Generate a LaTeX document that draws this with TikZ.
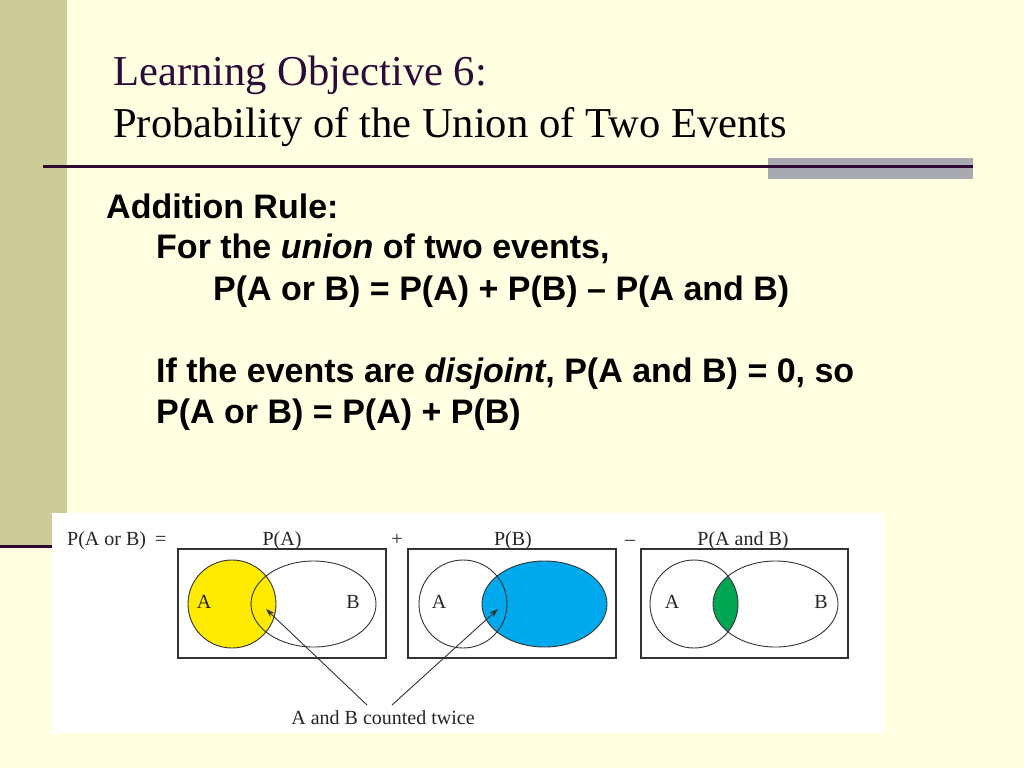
\documentclass[tikz,border=0pt]{standalone}
\usepackage{fontspec}
\setmainfont{Liberation Serif}
\newfontfamily\bodyfont{Liberation Sans}
\usetikzlibrary{arrows.meta}
\definecolor{bg}{HTML}{FFFFE1}
\definecolor{strip}{HTML}{CCCC99}
\definecolor{rulec}{HTML}{2E0A32}
\definecolor{greybar}{HTML}{A9A9B1}
\definecolor{titlec}{HTML}{2E0A3A}
\definecolor{vyellow}{HTML}{FFEA00}
\definecolor{vblue}{HTML}{00A9EC}
\definecolor{vgreen}{HTML}{00A651}
\definecolor{vline}{HTML}{333333}
\tikzset{
  titletext/.style={anchor=base west, inner sep=0pt, font=\fontsize{42.6}{50}\selectfont},
  bodytext/.style={anchor=base west, inner sep=0pt, font=\bodyfont\bfseries\fontsize{34}{40}\selectfont},
  figtext/.style={anchor=base, inner sep=0pt, font=\fontsize{20}{24}\selectfont, text=black!85},
  venntext/.style={anchor=center, inner sep=0pt, font=\fontsize{20}{24}\selectfont, text=black!85},
  vennbox/.style={draw=vline, line width=1.3pt},
  venncurve/.style={draw=vline, line width=0.9pt},
  pointer/.style={draw=vline, line width=0.9pt, -{Stealth[length=9pt,width=6pt]}}
}
\begin{document}
\begin{tikzpicture}[x=1pt,y=-1pt]
\useasboundingbox (0,0) rectangle (1024,768);
% background
\fill[bg] (0,0) rectangle (1024,768);
\fill[strip] (0,0) rectangle (67,545);
\draw[rulec, line width=3pt] (0,546) -- (60,546);
% title
\node[titletext, text=titlec] (t1) at (113,85) {Learning Objective 6:};
\node[titletext, text=black] (t2) at (113,137) {Probability of the Union of Two Events};
% rule and grey bar
\fill[greybar] (768,158) rectangle (973,179);
\draw[rulec, line width=2.2pt] (43,166.5) -- (973,166.5);
% body text
\node[bodytext] (l1) at (106,218) {Addition Rule:};
\node[bodytext] (l2) at (156,258) {For the \textit{union} of two events,};
\node[bodytext] (l3) at (213,300) {P(A or B) = P(A) + P(B) – P(A and B)};
\node[bodytext] (l4) at (156,382) {If the events are \textit{disjoint}, P(A and B) = 0, so};
\node[bodytext] (l5) at (156,423) {P(A or B) = P(A) + P(B)};
% figure panel
\fill[white] (52,513) rectangle (884,733);
\node[figtext, anchor=base west] (f0) at (67,545) {P(A or B)\hspace{9pt}=};
\node[figtext] (f1) at (282,545) {P(A)};
\node[figtext] (fplus) at (397,545) {+};
\node[figtext] (f2) at (513,545) {P(B)};
\node[figtext] (fminus) at (630,545) {–};
\node[figtext] (f3) at (743,545) {P(A and B)};
% panel 1
\draw[vennbox] (178,549) rectangle (386,658);
\fill[vyellow] (232,604) circle[radius=44pt];
\draw[venncurve] (232,604) circle[radius=44pt];
\draw[venncurve] (313.5,604) ellipse[x radius=62.5pt, y radius=43pt];
\node[venntext] (a1) at (204,602) {A};
\node[venntext] (b1) at (353,602) {B};
% panel 2
\draw[vennbox] (408,549) rectangle (616,658);
\fill[vblue] (544.5,604) ellipse[x radius=62.5pt, y radius=43pt];
\draw[venncurve] (544.5,604) ellipse[x radius=62.5pt, y radius=43pt];
\draw[venncurve] (463,604) circle[radius=44pt];
\node[venntext] (a2) at (439,602) {A};
% panel 3
\draw[vennbox] (641,549) rectangle (848,658);
\begin{scope}
  \clip (694,604) circle[radius=44pt];
  \fill[vgreen] (775.5,604) ellipse[x radius=62.5pt, y radius=43pt];
\end{scope}
\draw[venncurve] (694,604) circle[radius=44pt];
\draw[venncurve] (775.5,604) ellipse[x radius=62.5pt, y radius=43pt];
\node[venntext] (a3) at (672,602) {A};
\node[venntext] (b3) at (821,602) {B};
% caption and pointers
\node[figtext] (cap) at (383,724) {A and B counted twice};
\coordinate (s1) at (367,705);
\coordinate (e1) at (266,609);
\coordinate (s2) at (392,705);
\coordinate (e2) at (498,609);
\draw[pointer] (s1) -- (e1);
\draw[pointer] (s2) -- (e2);
\end{tikzpicture}
\end{document}
